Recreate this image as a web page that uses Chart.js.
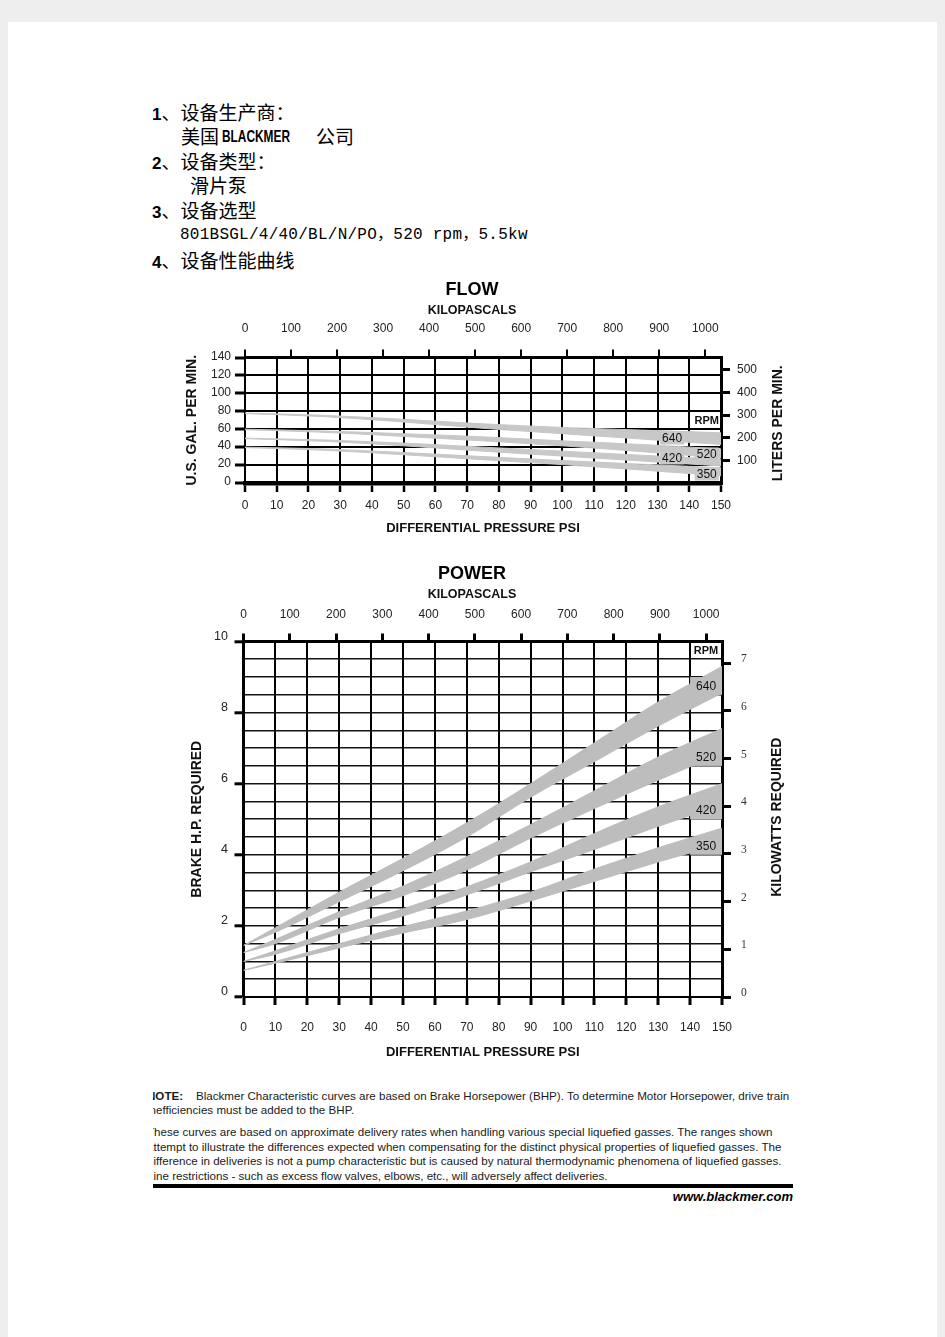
<!DOCTYPE html>
<html lang="zh-CN">
<head>
<meta charset="utf-8">
<title>801BSGL 设备性能曲线</title>
<script src="https://cdn.jsdelivr.net/npm/chart.js@4.4.1/dist/chart.umd.min.js"></script>
<style>
  html, body { margin:0; padding:0; }
  body { position:relative; width:945px; height:1337px; background:#eeeeee; overflow:hidden; }
  #page { position:absolute; left:8px; top:22px; width:929px; height:1315px; background:#ffffff; }
  .t { position:absolute; white-space:nowrap; color:#000; }
  .cn { font-family:"Noto Sans CJK SC", sans-serif; font-size:19px; line-height:24px; }
  .num { font-family:"Liberation Sans", Arial, sans-serif; font-weight:bold; font-size:17px; }
  .brand { font-family:"Liberation Sans", Arial, sans-serif; font-weight:bold; font-size:16.5px; transform:scaleX(0.72); transform-origin:0 50%; }
  .model { font-family:"Liberation Mono","Noto Sans CJK SC",monospace; font-size:16px; line-height:24px; letter-spacing:0.25px; }
  canvas { position:absolute; }
  #note { position:absolute; left:153px; top:1089px; width:645px; overflow:hidden; font-family:"Liberation Sans",Arial,sans-serif; font-size:11.6px; color:#1a1a1a; }
  #note div { position:relative; left:-6px; white-space:nowrap; height:14px; line-height:14px; }
  #note div.p2 { height:14.5px; line-height:14.5px; }
  #rule { position:absolute; left:153px; top:1184px; width:640px; height:4px; background:#000; }
  #web { position:absolute; right:152px; top:1189px; font-family:"Liberation Sans",Arial,sans-serif; font-weight:bold; font-style:italic; font-size:13px; line-height:16px; color:#000; }
</style>
</head>
<body>
<div id="page"></div>

<div class="t cn" style="left:152px;top:100px;"><span class="num">1</span>、设备生产商：</div>
<div class="t cn" style="left:181px;top:124px;">美国</div>
<div class="t brand" style="left:222px;top:126px;line-height:20px;">BLACKMER</div>
<div class="t cn" style="left:316px;top:124px;">公司</div>
<div class="t cn" style="left:152px;top:149px;"><span class="num">2</span>、设备类型：</div>
<div class="t cn" style="left:190px;top:173px;">滑片泵</div>
<div class="t cn" style="left:152px;top:198px;"><span class="num">3</span>、设备选型</div>
<div class="t model" style="left:180px;top:223px;">801BSGL/4/40/BL/N/PO，520 rpm，5.5kw</div>
<div class="t cn" style="left:152px;top:248px;"><span class="num">4</span>、设备性能曲线</div>

<canvas id="flow" width="630" height="275" style="left:170px;top:270px;"></canvas>
<canvas id="power" width="630" height="510" style="left:170px;top:555px;"></canvas>

<div id="note">
  <div><b>NOTE:</b>&nbsp;&nbsp;&nbsp;&nbsp;Blackmer Characteristic curves are based on Brake Horsepower (BHP). To determine Motor Horsepower, drive train</div>
  <div>inefficiencies must be added to the BHP.</div>
  <div style="height:8px"></div>
  <div class="p2">These curves are based on approximate delivery rates when handling various special liquefied gasses. The ranges shown</div>
  <div class="p2">attempt to illustrate the differences expected when compensating for the distinct physical properties of liquefied gasses. The</div>
  <div class="p2">difference in deliveries is not a pump characteristic but is caused by natural thermodynamic phenomena of liquefied gasses.</div>
  <div class="p2">Line restrictions - such as excess flow valves, elbows, etc., will adversely affect deliveries.</div>
</div>
<div id="rule"></div>
<div id="web">www.blackmer.com</div>

<script>
// ---------------- data ----------------
const rpmSeries = ['640', '520', '420', '350'];

const psiTicks = [0, 10, 20, 30, 40, 50, 60, 70, 80, 90, 100, 110, 120, 130, 140, 150];
const kpaTicks = [0, 100, 200, 300, 400, 500, 600, 700, 800, 900, 1000];
const gpmTicks = [0, 20, 40, 60, 80, 100, 120, 140];
const lpmTicks = [100, 200, 300, 400, 500];
const bhpTicks = [0, 2, 4, 6, 8, 10];
const kwTicks  = [0, 1, 2, 3, 4, 5, 6, 7];

// FLOW: U.S. gal/min vs differential pressure (psi); each rpm is a band (upper / lower edge)
const flowPsi   = [0, 25, 50, 75, 100, 125, 150];
const flow640Hi = [78, 75.5, 71, 66, 62, 59, 56];
const flow640Lo = [77.5, 74, 68, 61, 55, 49, 43];
const flow520Hi = [60, 58, 55, 51.5, 47, 43, 38];
const flow520Lo = [59.5, 56.5, 52, 47, 41.5, 35, 28];
const flow420Hi = [50, 48, 44.5, 40, 35.5, 31, 26.5];
const flow420Lo = [49.5, 46.5, 41.5, 35.5, 30, 24.5, 19];
const flow350Hi = [40, 38, 34, 29.5, 25, 21, 17];
const flow350Lo = [39.5, 36.5, 31.5, 26, 20.5, 14.5, 8];

// POWER: brake horsepower vs differential pressure (psi)
const powerPsi   = [0, 10, 30, 50, 70, 90, 110, 130, 150];
const power640Hi = [1.45, 1.95, 2.95, 3.90, 4.90, 6.00, 7.15, 8.30, 9.30];
const power640Lo = [1.45, 1.82, 2.68, 3.55, 4.50, 5.62, 6.62, 7.62, 8.55];
const power520Hi = [1.25, 1.62, 2.40, 3.12, 3.95, 4.85, 5.80, 6.75, 7.55];
const power520Lo = [1.25, 1.50, 2.24, 2.85, 3.57, 4.47, 5.30, 6.10, 6.85];
const power420Hi = [1.00, 1.30, 1.92, 2.48, 3.10, 3.80, 4.60, 5.35, 6.00];
const power420Lo = [1.00, 1.20, 1.78, 2.28, 2.87, 3.52, 4.15, 4.80, 5.40];
const power350Hi = [0.75, 1.00, 1.50, 1.98, 2.42, 2.95, 3.60, 4.20, 4.75];
const power350Lo = [0.75, 0.95, 1.38, 1.80, 2.18, 2.70, 3.25, 3.80, 4.30];

// unit relations of the secondary axes
const KPA_PER_PSI = 6.894757;
const KW_PER_HP = 0.7457;
const FLOW_LPM_AT_TOP = 555;   // liters/min scale value at the 140 gpm line, as drawn

// ---------------- helpers ----------------
const FONT = '"Liberation Sans", Arial, sans-serif';
const FLOW_GRAY = '#c8c8c8';
const POWER_GRAY = '#bdbdbd';

function fixedTicks(arr) { return s => { s.ticks = arr.map(v => ({ value: v })); }; }
function stepTicks(min, max, step) {
  return s => { const t = []; for (let v = min; v <= max + 1e-9; v += step) t.push({ value: +v.toFixed(4) }); s.ticks = t; };
}
const plain = v => String(v);
function band(xs, hi, lo, color, name) {
  const common = { borderColor: color, borderWidth: 1, pointRadius: 0, pointHoverRadius: 0, cubicInterpolationMode: 'monotone' };
  return [
    Object.assign({}, common, { label: name + ' RPM (high)', data: xs.map((x, i) => ({ x: x, y: hi[i] })), fill: false }),
    Object.assign({}, common, { label: name + ' RPM (low)', data: xs.map((x, i) => ({ x: x, y: lo[i] })), fill: '-1', backgroundColor: color })
  ];
}

function makeSideTitle(cfg) {
  return {
    id: 'sideTitle',
    afterDraw(chart) {
      const { ctx, chartArea } = chart;
      ctx.save();
      ctx.translate(chartArea.right + cfg.offset, (chartArea.top + chartArea.bottom) / 2 + cfg.dy);
      ctx.rotate(-Math.PI / 2);
      ctx.font = cfg.font;
      ctx.fillStyle = cfg.color;
      ctx.textAlign = 'center';
      ctx.textBaseline = 'middle';
      ctx.fillText(cfg.text, 0, 0);
      ctx.restore();
    }
  };
}

function makeRpmLabels(items) {
  function place(chart, it) {
    const x = chart.scales.x, y = chart.scales.y;
    if (it.cell) {
      return {
        x0: x.getPixelForValue(it.cell[0]), x1: x.getPixelForValue(it.cell[1]),
        y0: y.getPixelForValue(it.cell[3]), y1: y.getPixelForValue(it.cell[2])
      };
    }
    return { cx: x.getPixelForValue(it.at[0]), cy: y.getPixelForValue(it.at[1]) };
  }
  return {
    id: 'rpmLabels',
    beforeDatasetsDraw(chart) {
      const ctx = chart.ctx;
      ctx.save();
      items.forEach(it => {
        if (!it.bg) return;
        const p = place(chart, it);
        ctx.fillStyle = it.bg;
        if (it.cell) {
          ctx.fillRect(p.x0, p.y0, p.x1 - p.x0, p.y1 - p.y0);
        } else {
          ctx.font = it.font;
          const w = ctx.measureText(it.text).width;
          ctx.fillRect(p.cx - w / 2 - 2, p.cy - 6.5, w + 4, 13);
        }
      });
      ctx.restore();
    },
    afterDraw(chart) {
      const ctx = chart.ctx;
      ctx.save();
      ctx.textAlign = 'center';
      ctx.textBaseline = 'middle';
      items.forEach(it => {
        const p = place(chart, it);
        const cx = it.cell ? (p.x0 + p.x1) / 2 : p.cx;
        const cy = it.cell ? (p.y0 + p.y1) / 2 : p.cy;
        ctx.font = it.font;
        ctx.fillStyle = '#111';
        ctx.fillText(it.text, cx, cy + 0.5);
      });
      ctx.restore();
    }
  };
}

const tickFont = { family: FONT, size: 12 };
const titleFontV = { family: FONT, size: 14, weight: 'bold' };
const titleFontH = { family: FONT, size: 13, weight: 'bold' };

// ---------------- FLOW chart ----------------
new Chart(document.getElementById('flow'), {
  type: 'line',
  data: {
    datasets: [].concat(
      band(flowPsi, flow640Hi, flow640Lo, FLOW_GRAY, rpmSeries[0]),
      band(flowPsi, flow520Hi, flow520Lo, FLOW_GRAY, rpmSeries[1]),
      band(flowPsi, flow420Hi, flow420Lo, FLOW_GRAY, rpmSeries[2]),
      band(flowPsi, flow350Hi, flow350Lo, FLOW_GRAY, rpmSeries[3])
    )
  },
  options: {
    responsive: false, animation: false, devicePixelRatio: 1, events: [],
    layout: { padding: { left: 0, right: 26, top: 0, bottom: 0 } },
    plugins: {
      legend: { display: false }, tooltip: { enabled: false },
      title: { display: true, text: 'FLOW', color: '#000', font: { family: FONT, size: 18, weight: 'bold' }, padding: { top: 9.2, bottom: 0 } },
      subtitle: { display: true, text: 'KILOPASCALS', color: '#111', font: { family: FONT, size: 12.5, weight: 'bold' }, padding: { top: 2.7, bottom: 0 } }
    },
    scales: {
      x: {
        type: 'linear', position: 'bottom', min: 0, max: 150, z: 1,
        afterBuildTicks: fixedTicks(psiTicks),
        afterFit: s => { s.height = 62; },
        grid: { color: '#000', lineWidth: 2, tickLength: 9, tickWidth: 2.5, tickColor: '#000' },
        border: { color: '#000', width: 4.5 },
        ticks: { autoSkip: false, maxRotation: 0, padding: 6.8, color: '#222', font: tickFont, callback: plain },
        title: { display: true, text: 'DIFFERENTIAL PRESSURE PSI', color: '#111', font: titleFontH, padding: { top: 0, bottom: 9.2 } }
      },
      x2: {
        type: 'linear', position: 'top', min: 0, max: 150 * KPA_PER_PSI, z: 1,
        afterBuildTicks: fixedTicks(kpaTicks),
        afterFit: s => { s.height = 39; },
        grid: { drawOnChartArea: false, color: '#000', lineWidth: 2, tickLength: 8, tickColor: '#000' },
        border: { color: '#000', width: 3 },
        ticks: { autoSkip: false, maxRotation: 0, padding: 13.3, color: '#222', font: tickFont, callback: plain }
      },
      y: {
        type: 'linear', position: 'left', min: 0, max: 140, z: 1,
        afterBuildTicks: fixedTicks(gpmTicks),
        afterFit: s => { s.width = 75; },
        grid: { color: '#000', lineWidth: 2, tickLength: 10, tickWidth: 3, tickColor: '#000' },
        border: { color: '#000', width: 2 },
        ticks: { autoSkip: false, padding: 4, color: '#222', font: tickFont, labelOffset: -1, callback: plain },
        title: { display: true, text: 'U.S. GAL. PER MIN.', color: '#111', font: titleFontV, padding: { top: 13.6, bottom: 0 } }
      },
      y2: {
        type: 'linear', position: 'right', min: 0, max: FLOW_LPM_AT_TOP, z: 1,
        afterBuildTicks: fixedTicks(lpmTicks),
        afterFit: s => { s.width = 53; },
        grid: { drawOnChartArea: false, color: '#000', lineWidth: 3, tickLength: 9, tickColor: '#000' },
        border: { color: '#000', width: 3 },
        ticks: { autoSkip: false, padding: 7, color: '#222', font: tickFont, callback: plain }
      }
    }
  },
  plugins: [
    makeSideTitle({ text: 'LITERS PER MIN.', offset: 57, dy: 3, font: 'bold 14px ' + FONT, color: '#111' }),
    makeRpmLabels([
      { text: 'RPM', at: [145.5, 70.3], font: 'bold 11px ' + FONT },
      { text: rpmSeries[0], at: [134.6, 50.2], font: '12px ' + FONT, bg: FLOW_GRAY },
      { text: rpmSeries[1], at: [145.5, 32.4], font: '12px ' + FONT, bg: FLOW_GRAY },
      { text: rpmSeries[2], at: [134.6, 27.9], font: '12px ' + FONT, bg: FLOW_GRAY },
      { text: rpmSeries[3], at: [145.5, 10.0], font: '12px ' + FONT, bg: FLOW_GRAY }
    ])
  ]
});

// ---------------- POWER chart ----------------
new Chart(document.getElementById('power'), {
  type: 'line',
  data: {
    datasets: [].concat(
      band(powerPsi, power640Hi, power640Lo, POWER_GRAY, rpmSeries[0]),
      band(powerPsi, power520Hi, power520Lo, POWER_GRAY, rpmSeries[1]),
      band(powerPsi, power420Hi, power420Lo, POWER_GRAY, rpmSeries[2]),
      band(powerPsi, power350Hi, power350Lo, POWER_GRAY, rpmSeries[3])
    )
  },
  options: {
    responsive: false, animation: false, devicePixelRatio: 1, events: [],
    layout: { padding: { left: 0, right: 26, top: 0, bottom: 0 } },
    plugins: {
      legend: { display: false }, tooltip: { enabled: false },
      title: { display: true, text: 'POWER', color: '#000', font: { family: FONT, size: 18, weight: 'bold' }, padding: { top: 8.2, bottom: 0 } },
      subtitle: { display: true, text: 'KILOPASCALS', color: '#111', font: { family: FONT, size: 12.5, weight: 'bold' }, padding: { top: 2.7, bottom: 0 } }
    },
    scales: {
      x: {
        type: 'linear', position: 'bottom', min: 0, max: 150, z: 1,
        afterBuildTicks: fixedTicks(psiTicks),
        afterFit: s => { s.height = 68; },
        grid: { color: '#000', lineWidth: 2, tickLength: 8, tickWidth: 3, tickColor: '#000' },
        border: { color: '#000', width: 2 },
        ticks: { autoSkip: false, maxRotation: 0, padding: 15.8, color: '#222', font: tickFont, callback: plain },
        title: { display: true, text: 'DIFFERENTIAL PRESSURE PSI', color: '#111', font: titleFontH, padding: { top: 0, bottom: 5.2 } }
      },
      x2: {
        type: 'linear', position: 'top', min: 0, max: 150 * KPA_PER_PSI, z: 1,
        afterBuildTicks: fixedTicks(kpaTicks),
        afterFit: s => { s.height = 39; },
        grid: { drawOnChartArea: false, color: '#000', lineWidth: 3, tickLength: 8, tickColor: '#000' },
        border: { color: '#000', width: 3 },
        ticks: { autoSkip: false, maxRotation: 0, padding: 11.3, color: '#222', font: tickFont, callback: plain }
      },
      y: {
        type: 'linear', position: 'left', min: 0, max: 10, z: 1,
        afterBuildTicks: stepTicks(0, 10, 0.5),
        afterFit: s => { s.width = 73.5; },
        grid: {
          color: '#141414', lineWidth: 1.6, tickLength: 9, tickWidth: 3,
          tickColor: c => (c.tick && bhpTicks.includes(c.tick.value)) ? '#000' : 'rgba(0,0,0,0)'
        },
        border: { color: '#000', width: 3 },
        ticks: {
          autoSkip: false, padding: 6.5, color: '#222', font: { family: FONT, size: 12.5 }, labelOffset: -5,
          callback: v => bhpTicks.includes(v) ? String(v) : ''
        },
        title: { display: true, text: 'BRAKE H.P. REQUIRED', color: '#111', font: titleFontV, padding: { top: 18.6, bottom: 0 } }
      },
      y2: {
        type: 'linear', position: 'right', min: 0, max: 10 * KW_PER_HP, z: 1,
        afterBuildTicks: fixedTicks(kwTicks),
        afterFit: s => { s.width = 52; },
        grid: { drawOnChartArea: false, color: '#000', lineWidth: 3, tickLength: 9, tickColor: '#000' },
        border: { color: '#000', width: 3 },
        ticks: { autoSkip: false, padding: 10, color: '#333', font: { family: '"Liberation Serif", "DejaVu Serif", serif', size: 11.5 }, labelOffset: -4, callback: plain }
      }
    }
  },
  plugins: [
    makeSideTitle({ text: 'KILOWATTS REQUIRED', offset: 55, dy: -2, font: 'bold 14px ' + FONT, color: '#111' }),
    makeRpmLabels([
      { text: 'RPM', cell: [140, 150, 9.5, 10], font: 'bold 11px ' + FONT },
      { text: rpmSeries[0], cell: [140, 150, 8.5, 9.0], font: '12px ' + FONT, bg: POWER_GRAY },
      { text: rpmSeries[1], cell: [140, 150, 6.5, 7.0], font: '12px ' + FONT, bg: POWER_GRAY },
      { text: rpmSeries[2], cell: [140, 150, 5.0, 5.5], font: '12px ' + FONT, bg: POWER_GRAY },
      { text: rpmSeries[3], cell: [140, 150, 4.0, 4.5], font: '12px ' + FONT, bg: POWER_GRAY }
    ])
  ]
});
</script>
</body>
</html>
